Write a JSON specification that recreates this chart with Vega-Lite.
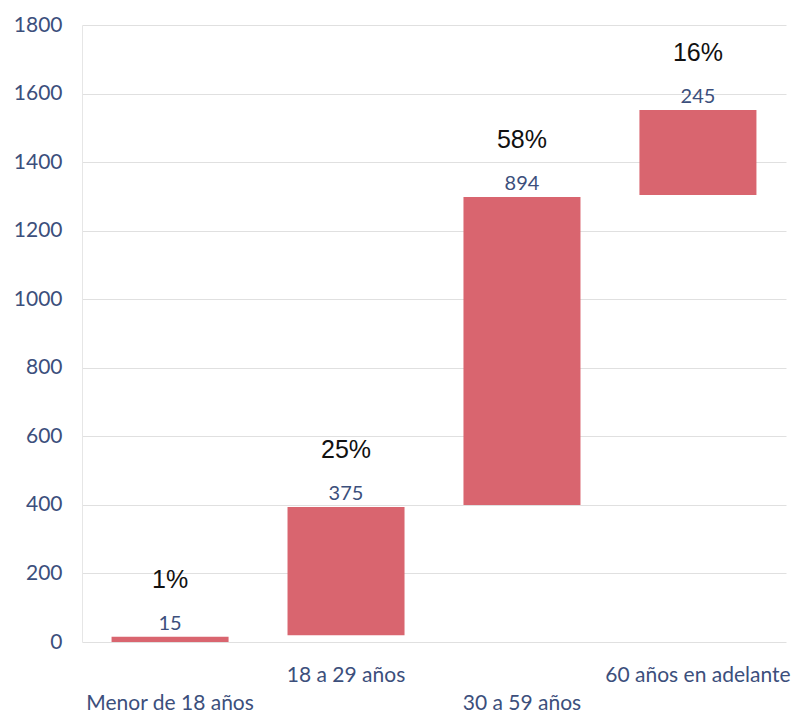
{
  "$schema": "https://vega.github.io/schema/vega-lite/v6.json",
  "width": 704,
  "height": 617,
  "autosize": {"type": "none"},
  "padding": {"left": 82, "top": 25, "right": 18, "bottom": 71},
  "background": "#ffffff",
  "config": {"view": {"stroke": null}},
  "data": {
    "values": [
      {"grupo": "Menor de 18 años", "inicio": 0, "fin": 15, "valor": "15", "pct": "1%"},
      {"grupo": "18 a 29 años", "inicio": 20, "fin": 394, "valor": "375", "pct": "25%"},
      {"grupo": "30 a 59 años", "inicio": 400, "fin": 1298, "valor": "894", "pct": "58%"},
      {"grupo": "60 años en adelante", "inicio": 1304, "fin": 1552, "valor": "245", "pct": "16%"}
    ]
  },
  "encoding": {
    "x": {
      "field": "grupo",
      "type": "nominal",
      "sort": null,
      "scale": {"paddingInner": 0.335, "paddingOuter": 0.168},
      "axis": {
        "title": null,
        "labelAngle": 0,
        "labelFont": "Lato",
        "labelFontSize": 21,
        "labelColor": "#3c4f7c",
        "labelBaseline": "middle",
        "labelLimit": 0,
        "labelPadding": {"condition": {"test": "datum.value == 'Menor de 18 años' || datum.value == '30 a 59 años'", "value": 61}, "value": 33},
        "labelOverlap": false,
        "ticks": false,
        "domain": false,
        "grid": false
      }
    }
  },
  "layer": [
    {
      "mark": {"type": "bar", "color": "#d9656f"},
      "encoding": {
        "y": {
          "field": "inicio",
          "type": "quantitative",
          "scale": {"domain": [0, 1800]},
          "axis": {
            "title": null,
            "values": [0, 200, 400, 600, 800, 1000, 1200, 1400, 1600, 1800],
            "format": "d",
            "labelFont": "Lato",
            "labelFontSize": 21,
            "labelColor": "#3c4f7c",
            "labelPadding": 20,
            "ticks": false,
            "domain": true,
            "domainColor": "#e6e6e6",
            "gridColor": "#d8d8d8",
            "gridWidth": 0.8
          }
        },
        "y2": {"field": "fin"}
      }
    },
    {
      "mark": {"type": "text", "font": "Lato", "fontSize": 20, "color": "#3c4f7c", "baseline": "middle", "dy": -13},
      "encoding": {
        "y": {"field": "fin", "type": "quantitative"},
        "text": {"field": "valor"}
      }
    },
    {
      "mark": {"type": "text", "font": "Liberation Sans", "fontSize": 25, "color": "#111111", "baseline": "middle", "dy": -57},
      "encoding": {
        "y": {"field": "fin", "type": "quantitative"},
        "text": {"field": "pct"}
      }
    }
  ]
}
